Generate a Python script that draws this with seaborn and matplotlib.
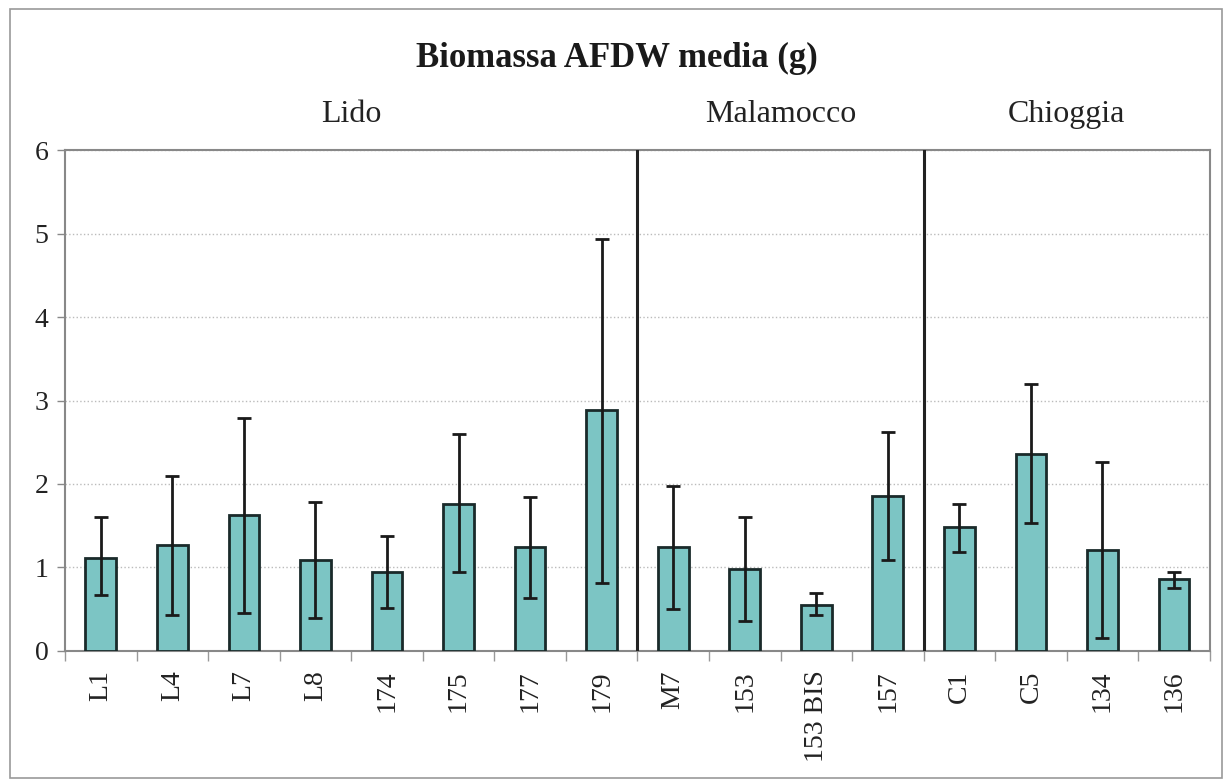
import matplotlib
matplotlib.use("Agg")
import matplotlib.pyplot as plt
import numpy as np
import pandas as pd
import seaborn as sns

# values
stations = ["L1", "L4", "L7", "L8", "174", "175", "177", "179",
            "M7", "153", "153 BIS", "157",
            "C1", "C5", "134", "136"]
biomass = [1.11, 1.27, 1.63, 1.09, 0.95, 1.76, 1.24, 2.89,
           1.24, 0.98, 0.55, 1.86,
           1.48, 2.36, 1.21, 0.86]
err_low = [0.67, 0.43, 0.45, 0.40, 0.52, 0.95, 0.64, 0.81,
           0.50, 0.36, 0.43, 1.09,
           1.19, 1.53, 0.16, 0.76]
err_high = [1.60, 2.10, 2.79, 1.79, 1.38, 2.60, 1.84, 4.94,
            1.98, 1.60, 0.69, 2.62,
            1.76, 3.20, 2.26, 0.95]
areas = ["Lido", "Malamocco", "Chioggia"]
area_sizes = [8, 4, 4]

sns.set_theme(style="white")
plt.rcParams["font.family"] = ["Liberation Serif", "DejaVu Serif"]

df = pd.DataFrame({"station": stations, "biomass": biomass})

fig = plt.figure(figsize=(12.27, 7.83), dpi=100)
ax = fig.add_axes([0.053, 0.1686, 0.933, 0.6398])

sns.barplot(data=df, x="station", y="biomass", color="#7cc5c4",
            saturation=1, width=0.43, edgecolor="#1a2a2a", linewidth=2,
            ax=ax, zorder=3)

x = np.arange(len(stations))
vals = np.array(biomass)
yerr = [vals - np.array(err_low), np.array(err_high) - vals]
ax.errorbar(x, vals, yerr=yerr, fmt="none", ecolor="#1a1a1a",
            elinewidth=2, capsize=5, capthick=2, zorder=4)

ax.set_xlim(-0.5, len(stations) - 0.5)
ax.set_ylim(0, 6)
ax.set_yticks(range(0, 7))
ax.set_yticklabels([str(v) for v in range(0, 7)], fontsize=20, color="#222222")
ax.tick_params(axis="y", which="major", direction="out", length=6,
               width=1, color="#888888", left=True, pad=6)

ax.set_xticks(x)
ax.set_xticklabels(stations, rotation=90, fontsize=20, color="#222222",
                   va="top")
ax.tick_params(axis="x", which="major", length=0, pad=14)
ax.set_xticks(np.arange(-0.5, len(stations)), minor=True)
ax.tick_params(axis="x", which="minor", direction="out", length=7,
               width=1, color="#999999", bottom=True)

ax.set_xlabel("")
ax.set_ylabel("")
ax.yaxis.grid(True, linestyle=":", color="#bbbbbb", linewidth=1)
ax.set_axisbelow(True)
for s in ax.spines.values():
    s.set_color("#888888")
    s.set_linewidth(1.5)

# area separators and labels
start = 0
for i, (name, n) in enumerate(zip(areas, area_sizes)):
    centre = start + (n - 1) / 2
    ax.text(centre, 6.25, name, ha="center", va="bottom", fontsize=23,
            color="#222222")
    if i > 0:
        ax.axvline(start - 0.5, ymin=0, ymax=1, color="#222222",
                   linewidth=2.2, zorder=5)
    start += n

fig.text(0.503, 0.925, "Biomassa AFDW media (g)", ha="center", va="center",
         fontsize=25, fontweight="bold", color="#1a1a1a")

fig.add_artist(plt.Rectangle((0.008, 0.006), 0.988, 0.983,
                             transform=fig.transFigure, fill=False,
                             edgecolor="#999999", linewidth=1.2))

fig.savefig("out.png", dpi=100)
